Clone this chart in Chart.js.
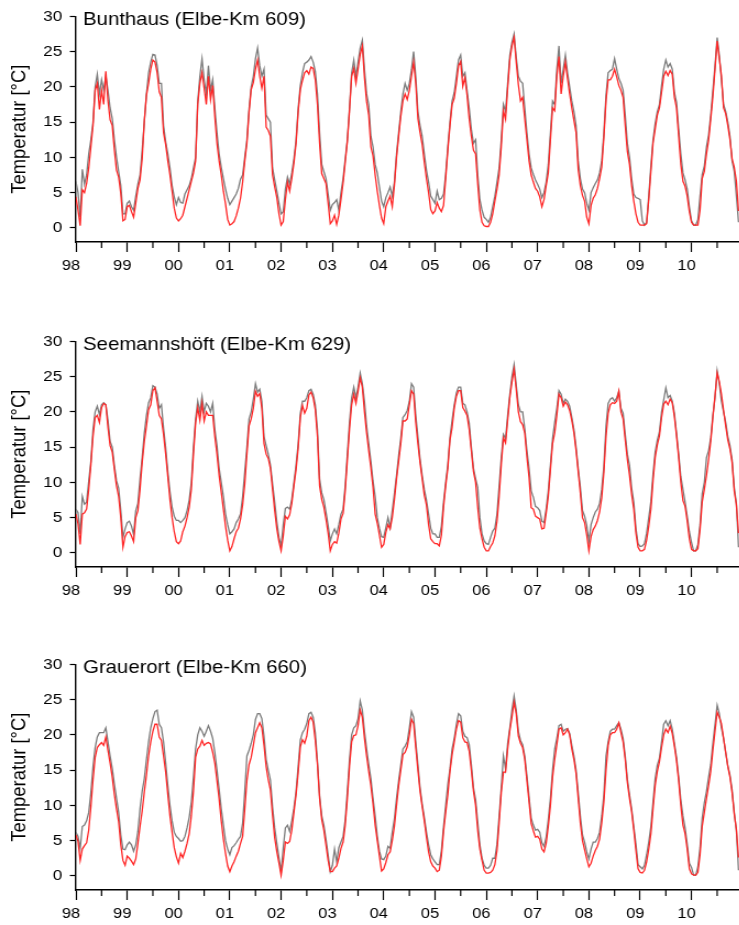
<!DOCTYPE html>
<html>
<head>
<meta charset="utf-8">
<title>Wassertemperatur Elbe</title>
<script src="https://cdn.jsdelivr.net/npm/chart.js@4/dist/chart.umd.min.js"></script>
<style>
  html, body { margin: 0; padding: 0; background: #fff; overflow: hidden; }
  /* the original figure is a little wider than tall in its lettering, so each panel is stretched */
  .panel { position: absolute; left: 0; transform: scaleX(1.1); transform-origin: 0 0; }
</style>
</head>
<body>
<canvas id="c1" class="panel" width="672" height="300" style="top:0px"></canvas>
<canvas id="c2" class="panel" width="672" height="300" style="top:325px"></canvas>
<canvas id="c3" class="panel" width="672" height="300" style="top:648px"></canvas>

<script>
// tick labels
const yearLabels = ["98", "99", "00", "01", "02", "03", "04", "05", "06", "07", "08", "09", "10"];
const tempTicks = [0, 5, 10, 15, 20, 25, 30];
// values every half month from Jan 1998
const perYear = 24;

// Bunthaus (Elbe-Km 609)
const bunthausRed = [
  4.4, 2.5, 0.3, 5.4, 5.0, 6.3, 8.5, 11.5, 14.5, 19.5, 20.5, 16.8, 19.5, 17.5, 22.2, 18.0, 15.3, 14.5, 11.0, 8.2, 7.2, 4.9, 1.0, 1.2,
  3.0, 3.2, 2.3, 1.5, 3.5, 5.6, 6.8, 9.8, 15.2, 18.8, 20.5, 22.5, 23.8, 23.5, 22.0, 19.3, 18.5, 13.5, 11.8, 9.5, 7.5, 5.2, 2.8, 1.4,
  1.0, 1.3, 1.8, 3.0, 4.2, 5.4, 6.6, 7.8, 9.5, 17.5, 20.5, 22.0, 19.8, 17.5, 21.5, 18.2, 20.2, 15.8, 12.0, 9.5, 7.5, 5.2, 3.4, 1.2,
  0.4, 0.6, 0.9, 1.7, 2.8, 4.2, 6.5, 9.5, 12.0, 16.4, 19.6, 20.6, 22.5, 23.8, 21.5, 19.8, 21.5, 14.3, 13.8, 13.0, 7.5, 5.8, 4.3, 2.0,
  0.4, 0.9, 4.0, 6.5, 5.2, 7.0, 9.2, 12.0, 16.5, 19.6, 20.9, 22.0, 22.3, 21.8, 22.8, 22.6, 21.0, 17.5, 12.0, 7.7, 7.0, 6.3, 3.5, 0.6,
  1.0, 1.8, 0.5, 1.8, 4.0, 6.4, 9.3, 12.3, 16.6, 21.5, 22.6, 20.5, 22.5, 24.6, 25.8, 21.3, 17.9, 16.0, 11.5, 10.2, 7.5, 5.2, 3.2, 1.4,
  0.6, 3.0, 3.8, 4.5, 3.0, 6.0, 10.0, 13.0, 15.8, 18.0, 19.0, 18.2, 19.5, 21.5, 23.5, 20.5, 15.5, 13.5, 11.8, 9.3, 7.0, 5.0, 2.6, 2.0,
  2.4, 3.6, 2.8, 2.3, 3.2, 7.0, 11.0, 14.5, 17.5, 18.4, 20.5, 23.0, 23.6, 20.1, 21.3, 18.8, 15.5, 13.0, 11.0, 10.5, 6.2, 2.5, 0.8, 0.3,
  0.2, 0.2, 0.8, 2.0, 3.8, 5.5, 7.5, 11.5, 16.6, 15.4, 19.8, 23.8, 25.8, 27.0, 23.5, 20.3, 18.0, 18.5, 15.5, 12.5, 9.5, 7.5, 6.5, 5.6,
  5.2, 4.4, 3.0, 4.0, 6.0, 7.8, 12.5, 17.0, 16.6, 21.5, 24.3, 19.0, 21.5, 23.5, 21.2, 19.0, 17.0, 15.2, 13.5, 8.3, 6.0, 4.6, 3.8, 1.5,
  0.6, 3.2, 4.2, 4.7, 5.6, 7.0, 8.6, 12.8, 18.0, 21.0, 21.0, 21.5, 22.5, 21.4, 20.2, 19.5, 18.5, 14.5, 10.8, 9.0, 6.0, 3.8, 2.0, 0.8,
  0.4, 0.4, 0.4, 0.6, 4.0, 8.0, 12.0, 14.0, 16.0, 17.0, 19.2, 21.5, 22.2, 21.6, 22.3, 21.8, 18.5, 17.0, 13.0, 9.0, 6.6, 5.9, 4.5, 2.3,
  0.8, 0.4, 0.4, 0.4, 2.5, 7.0, 8.0, 10.5, 12.4, 15.4, 18.6, 22.5, 26.5, 24.0, 21.6, 17.0, 16.2, 14.5, 12.5, 9.8, 8.6, 6.6, 2.4
];
const bunthausGray = [
  6.6, 5.0, 1.5, 8.3, 6.2, 7.5, 10.5, 12.5, 15.0, 20.0, 21.8, 19.0, 21.0, 19.5, 21.5, 19.5, 17.0, 15.5, 12.5, 10.0, 8.0, 6.0, 2.0, 2.0,
  3.5, 3.8, 3.0, 2.5, 4.5, 6.2, 7.5, 11.0, 15.0, 19.0, 22.0, 23.5, 24.6, 24.5, 23.0, 20.5, 20.5, 14.5, 12.2, 10.5, 8.5, 6.0, 4.4, 3.3,
  4.3, 3.6, 3.5, 4.8, 5.4, 6.0, 7.0, 8.5, 10.0, 18.0, 21.5, 24.0, 21.0, 19.0, 23.0, 19.5, 21.0, 17.0, 13.5, 10.5, 8.6, 7.0, 5.5, 4.2,
  3.3, 3.8, 4.3, 4.8, 5.6, 6.9, 7.5, 10.0, 12.5, 16.8, 20.0, 21.5, 24.0, 25.5, 23.0, 21.5, 22.5, 16.0, 15.5, 15.0, 8.5, 6.8, 5.2, 3.5,
  2.0, 2.3, 5.5, 7.2, 6.2, 7.8, 9.8, 12.5, 17.0, 20.2, 22.0, 23.3, 23.5, 23.8, 24.3, 23.5, 22.2, 19.0, 13.5, 9.0, 8.0, 7.0, 4.8, 2.5,
  3.3, 3.6, 4.0, 2.5, 5.0, 7.0, 9.8, 12.5, 17.0, 22.0, 23.8, 21.5, 23.5, 25.5, 26.6, 22.5, 19.0, 17.5, 13.0, 11.5, 9.0, 7.8, 5.8, 3.8,
  3.0, 4.3, 5.0, 5.8, 4.5, 6.5, 10.5, 13.5, 16.5, 19.0, 20.5, 19.5, 20.5, 22.5, 25.0, 21.5, 16.5, 14.5, 13.0, 10.5, 8.2, 6.5, 4.5, 4.0,
  3.5, 5.2, 4.0, 4.2, 4.8, 7.6, 11.5, 15.0, 18.0, 19.2, 21.5, 23.8, 24.5, 21.5, 22.0, 19.5, 17.0, 14.0, 12.0, 12.5, 7.5, 4.0, 2.5, 1.5,
  1.2, 0.8, 1.5, 3.0, 4.5, 6.5, 8.5, 12.5, 17.5, 16.5, 20.5, 24.5, 26.3, 27.5, 24.2, 21.5, 20.8, 20.5, 17.0, 13.5, 10.5, 8.5, 7.6, 6.8,
  6.2, 5.5, 4.3, 5.0, 6.5, 9.0, 13.5, 18.0, 17.5, 22.5, 25.8, 20.5, 22.5, 24.5, 22.0, 20.0, 18.0, 16.5, 14.5, 9.5, 7.0, 5.5, 5.0, 3.5,
  2.5, 5.0, 5.7, 6.3, 6.8, 7.8, 9.5, 13.5, 18.8, 22.0, 22.3, 22.5, 24.0, 22.5, 21.2, 20.5, 19.5, 16.0, 12.0, 10.0, 7.0, 4.8, 4.3, 4.2,
  4.0, 1.0, 0.4, 0.8, 4.5, 8.8, 12.5, 14.8, 16.5, 17.5, 20.2, 22.5, 23.8, 22.8, 23.3, 22.5, 19.2, 17.8, 14.0, 10.5, 7.8, 6.8, 5.5, 3.0,
  1.0, 0.4, 0.4, 1.2, 4.5, 7.6, 8.8, 11.5, 13.2, 16.0, 19.5, 23.0, 27.0, 24.5, 21.0, 17.5, 16.5, 15.0, 13.0, 9.5, 8.0, 4.5, 0.8
];

// Seemannshöft (Elbe-Km 629)
const seemannRed = [
  5.5, 4.1, 1.2, 5.5, 5.7, 6.2, 9.0, 12.5, 16.5, 19.2, 19.5, 18.5, 20.6, 21.2, 21.0, 17.8, 15.2, 14.3, 11.8, 9.5, 8.0, 5.0, 0.8, 2.3,
  2.9, 3.0, 2.4, 1.6, 5.0, 6.0, 9.0, 12.8, 15.8, 18.0, 20.3, 21.0, 23.0, 23.4, 21.5, 19.5, 19.0, 16.8, 14.0, 10.8, 7.5, 5.0, 3.0, 1.6,
  1.3, 1.7, 3.0, 3.8, 5.0, 6.5, 9.0, 14.0, 18.4, 20.6, 18.8, 21.2, 18.7, 20.0, 19.5, 19.5, 19.5, 16.5, 14.0, 11.0, 8.6, 6.2, 3.8, 1.8,
  0.3, 0.9, 2.0, 3.0, 3.5, 4.8, 6.8, 9.8, 14.0, 18.0, 19.0, 20.5, 22.9, 22.2, 22.6, 20.5, 15.5, 14.0, 13.4, 12.0, 9.0, 6.0, 3.4, 1.6,
  0.3, 2.4, 5.2, 4.8, 5.4, 7.0, 9.5, 11.8, 14.9, 19.2, 20.9, 19.8, 20.5, 22.4, 22.8, 22.0, 20.3, 16.5, 9.5, 7.6, 6.5, 4.8, 2.8, 0.3,
  1.2, 1.6, 1.4, 2.8, 4.8, 5.6, 8.8, 13.2, 17.5, 21.0, 22.5, 21.2, 22.9, 24.8, 23.5, 20.0, 17.0, 14.5, 12.1, 9.3, 5.5, 4.2, 2.5, 0.8,
  1.2, 2.9, 4.0, 3.4, 5.0, 7.5, 10.5, 13.0, 15.5, 18.7, 18.7, 19.0, 21.0, 23.0, 22.5, 18.5, 15.5, 12.8, 10.5, 8.2, 6.8, 4.0, 2.0, 1.6,
  1.3, 1.3, 1.0, 2.5, 6.5, 9.5, 12.0, 16.0, 17.8, 20.5, 22.2, 23.0, 23.0, 20.6, 20.1, 19.5, 17.5, 14.5, 11.5, 10.0, 6.4, 3.5, 2.0, 0.8,
  0.3, 0.3, 0.9, 1.4, 2.4, 4.5, 8.0, 12.5, 16.3, 15.6, 18.8, 22.0, 24.2, 26.0, 23.2, 20.0, 18.6, 18.2, 17.0, 13.6, 10.7, 6.4, 6.2, 5.2,
  5.0, 4.8, 3.4, 3.5, 5.6, 8.0, 11.8, 15.5, 17.0, 19.5, 22.5, 22.0, 20.8, 21.4, 21.0, 20.2, 18.8, 17.0, 14.5, 11.5, 8.5, 5.0, 4.3, 2.5,
  0.3, 2.3, 3.3, 3.8, 4.6, 5.8, 7.8, 11.4, 16.5, 19.8, 21.0, 21.3, 21.2, 21.5, 22.9, 20.0, 19.0, 16.0, 13.2, 11.0, 8.3, 6.2, 2.8, 0.8,
  0.3, 0.3, 0.5, 1.8, 3.8, 6.2, 10.2, 13.5, 15.3, 16.6, 19.2, 21.1, 21.5, 21.0, 21.8, 21.3, 19.3, 16.6, 13.5, 10.0, 7.4, 6.6, 4.5, 2.0,
  0.5, 0.3, 0.3, 0.6, 3.3, 7.2, 9.0, 11.0, 13.2, 15.8, 19.2, 22.3, 25.5, 24.3, 22.5, 20.2, 18.0, 16.0, 14.7, 12.8, 8.8, 6.8, 2.8
];
const seemannGray = [
  6.2, 5.7, 2.7, 8.0, 6.9, 7.2, 10.2, 13.0, 17.5, 20.0, 20.8, 19.6, 21.0, 21.3, 21.0, 18.8, 15.8, 15.0, 12.4, 10.2, 9.2, 6.0, 2.2, 3.4,
  4.3, 4.5, 3.8, 2.6, 6.0, 7.0, 10.5, 13.5, 17.0, 19.5, 21.3, 22.0, 23.7, 23.5, 22.5, 20.5, 21.0, 17.7, 14.9, 11.5, 8.7, 6.5, 5.2, 4.6,
  4.6, 4.3, 4.6, 5.0, 6.0, 7.5, 10.0, 15.0, 19.0, 21.5, 20.0, 22.2, 20.0, 21.2, 20.8, 20.0, 21.2, 17.5, 15.2, 12.0, 10.0, 8.0, 5.5, 4.0,
  2.7, 3.0, 3.4, 4.3, 4.8, 5.5, 8.0, 11.5, 15.0, 19.0, 20.0, 21.8, 24.0, 22.8, 23.2, 21.5, 16.5, 15.2, 14.0, 12.5, 9.8, 7.2, 4.4, 2.2,
  1.0, 4.0, 6.3, 6.5, 6.2, 7.6, 10.0, 12.5, 15.5, 19.8, 21.5, 21.5, 22.0, 23.0, 23.2, 22.5, 21.0, 17.5, 10.5, 8.5, 7.6, 5.8, 3.9, 1.7,
  2.7, 3.4, 2.7, 4.0, 5.5, 6.2, 9.6, 14.0, 18.5, 22.0, 23.5, 22.0, 23.5, 25.5, 24.0, 21.5, 18.0, 15.5, 13.0, 10.2, 8.0, 5.0, 3.5, 2.3,
  2.2, 3.6, 5.0, 3.6, 6.0, 8.4, 11.0, 13.8, 16.3, 19.2, 19.6, 20.2, 21.5, 24.0, 23.5, 19.5, 16.5, 13.3, 11.0, 9.0, 7.5, 5.5, 3.5, 2.7,
  2.7, 2.2, 2.2, 3.8, 7.2, 10.0, 12.5, 16.4, 18.8, 21.0, 22.7, 23.5, 23.5, 21.2, 21.0, 20.0, 18.4, 15.0, 12.0, 10.5, 9.3, 5.0, 2.7, 1.7,
  1.3, 1.2, 2.2, 3.1, 3.5, 5.5, 9.5, 13.5, 16.8, 16.2, 19.5, 22.5, 25.0, 26.7, 23.8, 21.0, 20.0, 20.0, 17.6, 14.5, 12.0, 8.8, 7.9, 6.6,
  6.4, 6.0, 4.5, 4.3, 6.2, 8.8, 12.5, 16.2, 18.5, 20.5, 23.0, 22.5, 21.2, 21.8, 21.5, 20.8, 19.2, 17.5, 15.0, 12.0, 9.3, 6.0, 5.2, 3.9,
  1.7, 4.0, 5.0, 5.8, 6.2, 7.0, 9.0, 12.3, 18.0, 21.2, 21.8, 22.0, 21.5, 22.0, 22.9, 20.5, 19.8, 16.8, 14.0, 12.4, 9.2, 7.2, 3.5, 1.3,
  0.9, 1.0, 1.3, 2.8, 5.0, 7.3, 11.2, 14.3, 16.0, 17.2, 20.0, 21.7, 23.4, 22.0, 22.3, 21.5, 19.8, 17.0, 14.0, 10.8, 9.0, 7.2, 5.2, 3.0,
  1.5, 0.3, 0.3, 1.2, 4.0, 8.4, 10.0, 13.5, 14.5, 16.3, 19.5, 22.0, 25.8, 24.0, 21.5, 20.0, 18.5, 16.5, 15.2, 13.2, 9.3, 7.0, 0.8
];

// Grauerort (Elbe-Km 660)
const grauerortRed = [
  5.8, 4.9, 2.2, 3.8, 4.3, 4.7, 6.5, 9.8, 13.6, 16.8, 18.2, 18.6, 18.9, 18.5, 19.7, 17.8, 16.0, 14.0, 11.5, 9.5, 7.7, 4.4, 2.2, 1.5,
  2.8, 2.5, 2.1, 1.6, 2.4, 4.6, 7.0, 9.2, 11.9, 14.3, 17.0, 19.0, 20.5, 21.5, 21.5, 19.7, 19.2, 17.0, 14.7, 11.5, 8.5, 6.2, 4.0, 2.7,
  1.8, 3.2, 2.6, 3.5, 4.6, 6.0, 8.5, 12.0, 16.8, 18.0, 18.4, 19.2, 18.5, 18.8, 18.9, 18.7, 17.5, 16.0, 13.5, 10.9, 7.8, 5.2, 3.2, 1.4,
  0.6, 1.4, 2.0, 2.8, 3.5, 4.6, 5.6, 9.5, 13.5, 15.8, 16.8, 18.5, 20.3, 21.0, 21.7, 21.0, 18.5, 15.5, 13.6, 12.2, 8.6, 5.4, 3.4, 1.8,
  0.1, 2.2, 4.8, 4.6, 4.9, 6.5, 9.0, 11.5, 14.7, 18.3, 19.3, 18.8, 19.8, 22.0, 22.5, 21.8, 19.2, 15.8, 11.0, 8.0, 6.5, 4.4, 2.2, 0.6,
  0.6, 1.1, 1.4, 2.5, 3.9, 4.8, 7.2, 11.0, 15.5, 19.0, 19.9, 20.0, 21.3, 23.5, 22.5, 19.5, 17.0, 14.8, 12.8, 10.2, 7.2, 5.0, 2.8, 0.7,
  1.0, 1.9, 3.0, 3.4, 5.0, 7.0, 10.0, 12.8, 15.0, 17.2, 17.5, 18.3, 20.0, 22.2, 21.6, 18.2, 15.0, 12.0, 9.8, 7.8, 5.5, 3.4, 2.0, 1.4,
  1.1, 0.6, 0.8, 2.8, 6.3, 9.0, 11.5, 14.8, 17.2, 19.0, 20.8, 22.0, 21.8, 19.6, 19.0, 18.9, 17.7, 15.0, 12.0, 10.0, 6.4, 3.8, 2.2, 0.8,
  0.4, 0.4, 0.5, 0.8, 1.6, 3.6, 7.5, 11.8, 14.7, 14.7, 18.0, 20.6, 22.5, 24.6, 23.0, 19.8, 18.8, 18.2, 16.5, 13.5, 10.5, 7.4, 6.4, 5.5,
  5.6, 5.2, 3.8, 3.4, 4.6, 7.0, 10.0, 14.0, 16.5, 18.6, 20.8, 21.0, 20.0, 20.3, 20.8, 20.0, 18.0, 16.5, 14.5, 11.0, 7.5, 5.0, 3.7, 2.4,
  1.3, 1.8, 2.8, 3.6, 4.2, 5.2, 7.5, 10.5, 15.0, 18.5, 20.0, 20.3, 20.3, 20.8, 21.7, 20.3, 19.0, 16.5, 13.2, 11.0, 9.1, 6.5, 3.6, 1.0,
  0.5, 0.4, 0.8, 2.0, 3.8, 6.0, 9.5, 12.8, 14.8, 16.2, 18.2, 20.0, 20.8, 20.3, 21.2, 20.2, 18.4, 16.3, 13.5, 10.0, 7.2, 6.0, 3.8, 1.0,
  0.3, 0.1, 0.1, 0.5, 3.0, 7.0, 9.0, 11.0, 12.8, 14.8, 17.8, 20.5, 23.2, 22.5, 21.6, 19.5, 17.5, 15.5, 14.0, 11.8, 8.8, 6.6, 2.6
];
const grauerortGray = [
  6.2, 5.6, 3.9, 7.0, 7.2, 7.8, 9.0, 11.8, 15.5, 18.2, 19.7, 20.3, 20.3, 20.3, 21.0, 19.0, 17.0, 15.2, 13.0, 11.0, 9.0, 5.8, 3.8, 3.7,
  4.4, 4.8, 4.4, 3.5, 4.4, 6.3, 9.5, 12.0, 13.8, 16.5, 19.0, 21.0, 22.3, 23.3, 23.5, 21.5, 21.0, 19.0, 16.0, 12.8, 10.0, 7.8, 6.2, 5.6,
  5.3, 4.9, 5.0, 5.6, 6.8, 8.3, 10.5, 14.0, 18.0, 20.0, 21.0, 20.5, 19.8, 20.5, 21.3, 20.5, 19.5, 17.5, 15.0, 12.3, 9.5, 7.2, 5.0, 3.8,
  3.0, 4.0, 4.3, 4.7, 5.2, 5.6, 7.5, 12.0, 17.0, 17.8, 18.8, 20.0, 22.2, 23.0, 23.0, 22.3, 19.8, 16.5, 15.0, 13.6, 9.8, 6.8, 4.6, 2.6,
  0.6, 4.0, 6.8, 7.2, 6.3, 7.8, 9.6, 12.0, 15.6, 19.3, 20.3, 20.8, 21.6, 23.0, 23.2, 22.5, 20.3, 16.2, 11.4, 8.5, 7.2, 5.2, 3.0, 0.6,
  1.5, 3.8, 2.0, 4.0, 4.8, 5.6, 8.0, 12.0, 16.5, 20.0, 21.0, 21.3, 22.3, 24.8, 23.5, 20.5, 18.0, 15.8, 13.8, 11.0, 8.5, 5.6, 3.5, 2.4,
  2.3, 2.8, 4.2, 3.9, 6.2, 8.1, 11.0, 13.5, 15.8, 18.0, 18.4, 19.0, 21.0, 23.3, 22.5, 19.0, 15.8, 12.5, 10.2, 8.3, 6.2, 4.4, 3.0, 2.4,
  2.0, 1.6, 1.6, 3.6, 7.0, 10.0, 13.0, 15.2, 18.0, 19.5, 21.5, 23.0, 22.7, 20.5, 19.8, 19.6, 18.6, 15.8, 12.5, 10.8, 7.6, 4.4, 2.5, 1.5,
  1.1, 1.1, 1.5, 2.5, 2.5, 4.5, 8.5, 12.5, 17.0, 15.2, 18.8, 21.0, 23.5, 25.5, 23.5, 20.5, 19.2, 18.6, 17.0, 14.2, 11.2, 8.2, 7.2, 6.5,
  6.6, 6.2, 4.7, 4.2, 5.5, 8.0, 11.0, 15.0, 18.0, 19.5, 21.3, 21.5, 20.5, 20.8, 20.9, 20.2, 18.5, 17.0, 15.0, 11.8, 8.5, 5.8, 4.8, 3.4,
  2.4, 3.8, 4.8, 4.8, 5.3, 6.2, 8.5, 11.5, 17.0, 19.0, 20.5, 20.8, 20.8, 21.3, 21.7, 20.8, 19.5, 17.0, 13.7, 11.5, 9.5, 7.0, 4.5, 1.6,
  1.3, 1.0, 1.5, 3.0, 4.8, 7.0, 10.5, 13.8, 15.7, 16.7, 19.0, 21.5, 22.0, 21.3, 22.0, 20.8, 18.8, 16.8, 14.0, 10.8, 8.5, 6.8, 4.5, 1.8,
  1.2, 0.1, 0.1, 1.3, 4.0, 8.2, 10.4, 12.0, 14.0, 15.8, 18.8, 21.5, 24.2, 23.0, 21.0, 19.5, 17.5, 15.6, 14.3, 12.2, 9.0, 6.4, 0.8
];

const FONT = '"Liberation Sans", Arial, sans-serif';
Chart.defaults.font.family = FONT;
Chart.defaults.color = "#000";

function toPoints(values) {
  return values.map((v, i) => ({ x: i / perYear, y: v }));
}

// half-year ticks and the station name inside the plot
const panelDecor = {
  id: "panelDecor",
  afterDraw(chart, args, opts) {
    const ctx = chart.ctx;
    const area = chart.chartArea;
    const x = chart.scales.x;
    ctx.save();
    ctx.strokeStyle = "#000";
    ctx.lineWidth = 1.2;
    for (let i = 0; i < yearLabels.length; i++) {
      const px = x.getPixelForValue(i + 0.5);
      if (px > area.right) break;
      ctx.beginPath();
      ctx.moveTo(px, area.bottom);
      ctx.lineTo(px, area.bottom + 6);
      ctx.stroke();
    }
    ctx.fillStyle = "#000";
    ctx.font = "18.5px " + FONT;
    ctx.textBaseline = "alphabetic";
    ctx.textAlign = "left";
    ctx.fillText(opts.title, area.left + 6.5, area.top + 8.7);
    ctx.restore();
  }
};

function makePanel(id, title, red, gray) {
  const ctx = document.getElementById(id);
  return new Chart(ctx, {
    type: "line",
    data: {
      datasets: [
        { data: toPoints(red), borderColor: "#ff2626", borderWidth: 1.3 },
        { data: toPoints(gray), borderColor: "#7c7c7c", borderWidth: 1.3 }
      ]
    },
    options: {
      responsive: false,
      animation: false,
      layout: { padding: { top: 14, right: 0, bottom: 0, left: 0 } },
      elements: { point: { radius: 0 }, line: { tension: 0 } },
      plugins: {
        legend: { display: false },
        tooltip: { enabled: false },
        panelDecor: { title: title }
      },
      scales: {
        x: {
          type: "linear",
          min: 0,
          max: 12.93,
          afterBuildTicks: s => { s.ticks = yearLabels.map((l, i) => ({ value: i })); },
          afterFit: s => { s.height = 58; },
          grid: { drawOnChartArea: false, tickLength: 10, tickColor: "#000", tickWidth: 1.2 },
          border: { display: true, color: "#000", width: 1.4 },
          ticks: {
            autoSkip: false,
            maxRotation: 0,
            padding: 5,
            labelOffset: -4.5,
            font: { size: 15 },
            callback: v => yearLabels[Math.round(v)]
          }
        },
        y: {
          min: -2,
          max: 30,
          afterBuildTicks: s => { s.ticks = tempTicks.map(v => ({ value: v })); },
          afterFit: s => { s.width = 69; },
          grid: { drawOnChartArea: false, tickLength: 5.5, tickColor: "#000", tickWidth: 1.2 },
          border: { display: true, color: "#000", width: 1.4 },
          ticks: { padding: 7, font: { size: 15.5 } },
          title: {
            display: true,
            text: "Temperatur [°C]",
            font: { size: 18.4 },
            padding: { top: 7, bottom: 0 }
          }
        }
      }
    },
    plugins: [panelDecor]
  });
}

makePanel("c1", "Bunthaus (Elbe-Km 609)", bunthausRed, bunthausGray);
makePanel("c2", "Seemannshöft (Elbe-Km 629)", seemannRed, seemannGray);
makePanel("c3", "Grauerort (Elbe-Km 660)", grauerortRed, grauerortGray);
</script>
</body>
</html>
